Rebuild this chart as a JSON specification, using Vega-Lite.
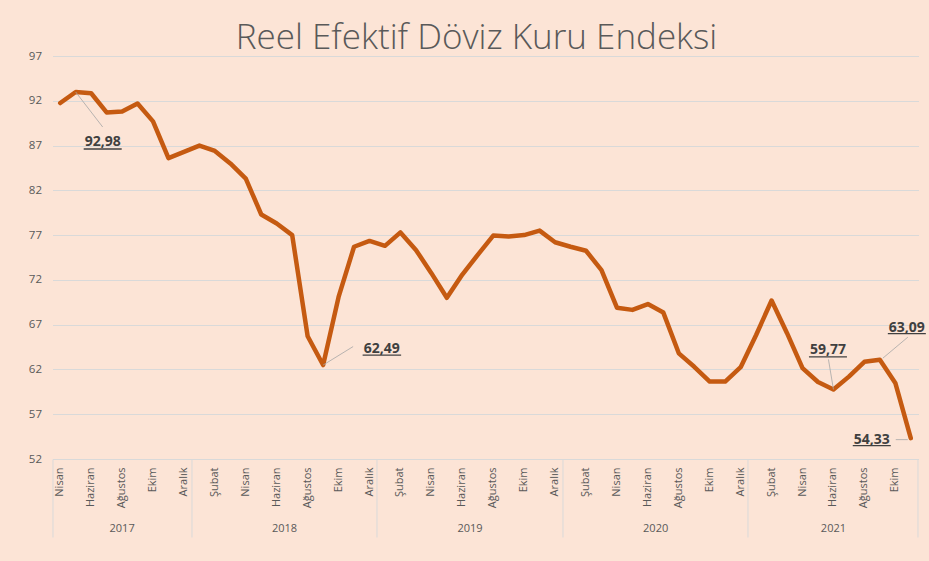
{
  "$schema": "https://vega.github.io/schema/vega-lite/v6.json",
  "width": 866,
  "height": 403,
  "autosize": {"type": "none"},
  "padding": {"left": 52.5, "top": 56, "right": 10.5, "bottom": 102},
  "background": "#fce4d6",
  "title": {
    "text": "Reel Efektif Döviz Kuru Endeksi",
    "font": "Open Sans",
    "fontWeight": 300,
    "fontSize": 35,
    "color": "#595959",
    "anchor": "middle",
    "baseline": "alphabetic",
    "offset": -34,
    "dx": -9
  },
  "datasets": {
    "reel": [
      {"ay": "2017-04", "endeks": 91.75},
      {"ay": "2017-05", "endeks": 92.98},
      {"ay": "2017-06", "endeks": 92.84},
      {"ay": "2017-07", "endeks": 90.7},
      {"ay": "2017-08", "endeks": 90.8},
      {"ay": "2017-09", "endeks": 91.7},
      {"ay": "2017-10", "endeks": 89.7},
      {"ay": "2017-11", "endeks": 85.6},
      {"ay": "2017-12", "endeks": 86.3},
      {"ay": "2018-01", "endeks": 87.0},
      {"ay": "2018-02", "endeks": 86.4},
      {"ay": "2018-03", "endeks": 85.0},
      {"ay": "2018-04", "endeks": 83.3},
      {"ay": "2018-05", "endeks": 79.3},
      {"ay": "2018-06", "endeks": 78.3},
      {"ay": "2018-07", "endeks": 77.0},
      {"ay": "2018-08", "endeks": 65.7},
      {"ay": "2018-09", "endeks": 62.49},
      {"ay": "2018-10", "endeks": 70.1},
      {"ay": "2018-11", "endeks": 75.7},
      {"ay": "2018-12", "endeks": 76.35},
      {"ay": "2019-01", "endeks": 75.8},
      {"ay": "2019-02", "endeks": 77.3},
      {"ay": "2019-03", "endeks": 75.35},
      {"ay": "2019-04", "endeks": 72.75},
      {"ay": "2019-05", "endeks": 70.0},
      {"ay": "2019-06", "endeks": 72.6},
      {"ay": "2019-07", "endeks": 74.8},
      {"ay": "2019-08", "endeks": 76.95},
      {"ay": "2019-09", "endeks": 76.85},
      {"ay": "2019-10", "endeks": 77.0},
      {"ay": "2019-11", "endeks": 77.5},
      {"ay": "2019-12", "endeks": 76.2},
      {"ay": "2020-01", "endeks": 75.7},
      {"ay": "2020-02", "endeks": 75.25},
      {"ay": "2020-03", "endeks": 73.1},
      {"ay": "2020-04", "endeks": 68.9},
      {"ay": "2020-05", "endeks": 68.65},
      {"ay": "2020-06", "endeks": 69.3},
      {"ay": "2020-07", "endeks": 68.35},
      {"ay": "2020-08", "endeks": 63.8},
      {"ay": "2020-09", "endeks": 62.3},
      {"ay": "2020-10", "endeks": 60.65},
      {"ay": "2020-11", "endeks": 60.65},
      {"ay": "2020-12", "endeks": 62.25},
      {"ay": "2021-01", "endeks": 65.85},
      {"ay": "2021-02", "endeks": 69.7},
      {"ay": "2021-03", "endeks": 66.05},
      {"ay": "2021-04", "endeks": 62.15},
      {"ay": "2021-05", "endeks": 60.6},
      {"ay": "2021-06", "endeks": 59.77},
      {"ay": "2021-07", "endeks": 61.2},
      {"ay": "2021-08", "endeks": 62.85},
      {"ay": "2021-09", "endeks": 63.09},
      {"ay": "2021-10", "endeks": 60.5},
      {"ay": "2021-11", "endeks": 54.33}
    ],
    "etiketler": [
      {"ay": "2017-05", "endeks": 92.98, "etiket": "92,98"},
      {"ay": "2018-09", "endeks": 62.49, "etiket": "62,49"},
      {"ay": "2021-06", "endeks": 59.77, "etiket": "59,77"},
      {"ay": "2021-09", "endeks": 63.09, "etiket": "63,09"},
      {"ay": "2021-11", "endeks": 54.33, "etiket": "54,33"}
    ]
  },
  "data": {"name": "reel"},
  "layer": [
    {
      "mark": {"type": "line", "color": "#c55a11", "strokeWidth": 4.5, "strokeJoin": "round", "strokeCap": "round"},
      "encoding": {
        "x": {
          "field": "ay", "type": "ordinal",
          "scale": {"type": "band", "paddingInner": 0, "paddingOuter": 0},
          "axis": {
            "orient": "bottom", "title": null, "labelAngle": -90,
            "labelExpr": "toNumber(substring(datum.value,5,7)) % 2 == 0 ? ['Ocak','Şubat','Mart','Nisan','Mayıs','Haziran','Temmuz','Ağustos','Eylül','Ekim','Kasım','Aralık'][toNumber(substring(datum.value,5,7))-1] : ''",
            "ticks": false, "domain": false, "grid": false, "labelPadding": 8,
            "labelFont": "Open Sans", "labelFontSize": 11, "labelColor": "#595959"
          }
        },
        "y": {
          "field": "endeks", "type": "quantitative",
          "scale": {"domain": [52, 97], "nice": false, "zero": false},
          "axis": {
            "title": null, "values": [52, 57, 62, 67, 72, 77, 82, 87, 92, 97],
            "ticks": false, "domain": false, "grid": true, "gridColor": "#d9d9d9", "gridWidth": 1,
            "labelPadding": 11, "labelFont": "Open Sans", "labelFontSize": 11.5, "labelColor": "#595959"
          }
        }
      }
    },
    {
      "mark": {"type": "point", "opacity": 0},
      "encoding": {
        "x": {
          "field": "ay", "type": "ordinal",
          "axis": {
            "orient": "bottom", "title": null,
            "values": ["2017-08", "2018-07", "2019-07", "2020-07", "2021-06"],
            "labelAngle": 0,
            "labelExpr": "substring(datum.value,0,4)",
            "labelOffset": {"condition": {"test": "datum.value == '2017-08' || datum.value == '2021-06'", "value": 0}, "value": -7.7},
            "ticks": false, "domain": false, "grid": false,
            "labelPadding": 63, "labelBaseline": "top",
            "labelFont": "Open Sans", "labelFontSize": 11, "labelColor": "#595959"
          }
        }
      }
    },
    {
      "mark": {"type": "point", "opacity": 0},
      "encoding": {
        "x": {
          "field": "ay", "type": "ordinal",
          "axis": {
            "orient": "bottom", "title": null,
            "values": ["2017-04", "2018-01", "2019-01", "2020-01", "2021-01"],
            "bandPosition": 0, "labels": false, "ticks": true, "tickSize": 78,
            "tickColor": "#d9d9d9", "tickWidth": 1, "domain": false, "grid": false
          }
        }
      }
    },
    {
      "mark": {"type": "point", "opacity": 0},
      "encoding": {
        "x": {
          "field": "ay", "type": "ordinal",
          "axis": {
            "orient": "bottom", "title": null,
            "values": ["2021-11"],
            "bandPosition": 1, "labels": false, "ticks": true, "tickSize": 78,
            "tickColor": "#d9d9d9", "tickWidth": 1, "domain": false, "grid": false
          }
        }
      }
    },
    {
      "data": {"name": "etiketler"},
      "transform": [{"filter": "datum.ay == '2017-05'"}],
      "encoding": {
        "x": {"field": "ay", "type": "ordinal", "axis": null},
        "y": {"field": "endeks", "type": "quantitative"}
      },
      "layer": [
        {"mark": {"type": "rule", "color": "#a6a6a6", "strokeWidth": 0.8, "x2Offset": 27, "y2Offset": 35},
         "encoding": {"x2": {"field": "ay"}, "y2": {"field": "endeks"}}},
        {"mark": {"type": "rule", "color": "#404040", "strokeWidth": 1.3, "xOffset": 8, "x2Offset": 46, "yOffset": 57, "y2Offset": 57},
         "encoding": {"x2": {"field": "ay"}, "y2": {"field": "endeks"}}},
        {"mark": {"type": "text", "font": "Open Sans", "fontWeight": "bold", "fontSize": 14, "color": "#404040", "align": "center", "baseline": "alphabetic", "dx": 27, "dy": 54},
         "encoding": {"text": {"field": "etiket"}}}
      ]
    },
    {
      "data": {"name": "etiketler"},
      "transform": [{"filter": "datum.ay == '2018-09'"}],
      "encoding": {
        "x": {"field": "ay", "type": "ordinal", "axis": null},
        "y": {"field": "endeks", "type": "quantitative"}
      },
      "layer": [
        {"mark": {"type": "rule", "color": "#a6a6a6", "strokeWidth": 0.8, "x2Offset": 30, "y2Offset": -18.5},
         "encoding": {"x2": {"field": "ay"}, "y2": {"field": "endeks"}}},
        {"mark": {"type": "rule", "color": "#404040", "strokeWidth": 1.3, "xOffset": 39.5, "x2Offset": 78, "yOffset": -10, "y2Offset": -10},
         "encoding": {"x2": {"field": "ay"}, "y2": {"field": "endeks"}}},
        {"mark": {"type": "text", "font": "Open Sans", "fontWeight": "bold", "fontSize": 14, "color": "#404040", "align": "center", "baseline": "alphabetic", "dx": 58.5, "dy": -12.5},
         "encoding": {"text": {"field": "etiket"}}}
      ]
    },
    {
      "data": {"name": "etiketler"},
      "transform": [{"filter": "datum.ay == '2021-06'"}],
      "encoding": {
        "x": {"field": "ay", "type": "ordinal", "axis": null},
        "y": {"field": "endeks", "type": "quantitative"}
      },
      "layer": [
        {"mark": {"type": "rule", "color": "#a6a6a6", "strokeWidth": 0.8, "x2Offset": -5, "y2Offset": -30},
         "encoding": {"x2": {"field": "ay"}, "y2": {"field": "endeks"}}},
        {"mark": {"type": "rule", "color": "#404040", "strokeWidth": 1.3, "xOffset": -24.5, "x2Offset": 13.5, "yOffset": -32.5, "y2Offset": -32.5},
         "encoding": {"x2": {"field": "ay"}, "y2": {"field": "endeks"}}},
        {"mark": {"type": "text", "font": "Open Sans", "fontWeight": "bold", "fontSize": 14, "color": "#404040", "align": "center", "baseline": "alphabetic", "dx": -5.5, "dy": -35},
         "encoding": {"text": {"field": "etiket"}}}
      ]
    },
    {
      "data": {"name": "etiketler"},
      "transform": [{"filter": "datum.ay == '2021-09'"}],
      "encoding": {
        "x": {"field": "ay", "type": "ordinal", "axis": null},
        "y": {"field": "endeks", "type": "quantitative"}
      },
      "layer": [
        {"mark": {"type": "rule", "color": "#a6a6a6", "strokeWidth": 0.8, "xOffset": 3, "yOffset": -1.5, "x2Offset": 28, "y2Offset": -22.5},
         "encoding": {"x2": {"field": "ay"}, "y2": {"field": "endeks"}}},
        {"mark": {"type": "rule", "color": "#404040", "strokeWidth": 1.3, "xOffset": 8, "x2Offset": 46, "yOffset": -26, "y2Offset": -26},
         "encoding": {"x2": {"field": "ay"}, "y2": {"field": "endeks"}}},
        {"mark": {"type": "text", "font": "Open Sans", "fontWeight": "bold", "fontSize": 14, "color": "#404040", "align": "center", "baseline": "alphabetic", "dx": 27, "dy": -28},
         "encoding": {"text": {"field": "etiket"}}}
      ]
    },
    {
      "data": {"name": "etiketler"},
      "transform": [{"filter": "datum.ay == '2021-11'"}],
      "encoding": {
        "x": {"field": "ay", "type": "ordinal", "axis": null},
        "y": {"field": "endeks", "type": "quantitative"}
      },
      "layer": [
        {"mark": {"type": "rule", "color": "#a6a6a6", "strokeWidth": 0.8, "xOffset": -3, "yOffset": 1.5, "x2Offset": -15, "y2Offset": 1.5},
         "encoding": {"x2": {"field": "ay"}, "y2": {"field": "endeks"}}},
        {"mark": {"type": "rule", "color": "#404040", "strokeWidth": 1.3, "xOffset": -58, "x2Offset": -20, "yOffset": 7.5, "y2Offset": 7.5},
         "encoding": {"x2": {"field": "ay"}, "y2": {"field": "endeks"}}},
        {"mark": {"type": "text", "font": "Open Sans", "fontWeight": "bold", "fontSize": 14, "color": "#404040", "align": "center", "baseline": "alphabetic", "dx": -39, "dy": 5.5},
         "encoding": {"text": {"field": "etiket"}}}
      ]
    }
  ],
  "resolve": {"axis": {"x": "independent"}},
  "config": {
    "view": {"stroke": null},
    "font": "Open Sans"
  }
}
